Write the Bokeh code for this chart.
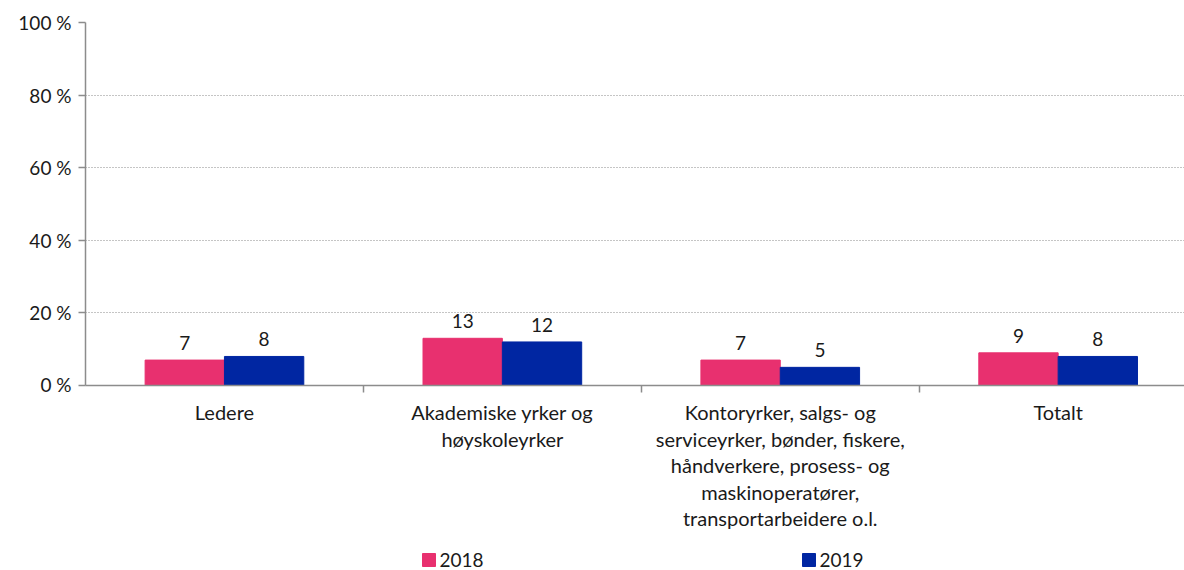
from bokeh.plotting import figure
from bokeh.layouts import column
from bokeh.models import FixedTicker, ColumnDataSource, Range1d
from bokeh.embed import file_html
from bokeh.resources import INLINE
from bokeh.core.properties import value

categories = ["Ledere",
              "Akademiske yrker og\nhøyskoleyrker",
              "Kontoryrker, salgs- og\nserviceyrker, bønder, fiskere,\nhåndverkere, prosess- og\nmaskinoperatører,\ntransportarbeidere o.l.",
              "Totalt"]
v2018 = [7, 13, 7, 9]
v2019 = [8, 12, 5, 8]
series_names = ["2018", "2019"]
y_ticks = [0, 20, 40, 60, 80, 100]
y_labels = ["0 %", "20 %", "40 %", "60 %", "80 %", "100 %"]

FONT = "Lato"
C1 = "#E8306F"
C2 = "#0026A2"
colors = [C1, C2]
TXT = "#1a1a1a"
AX = "#8c8c8c"

# layout constants (pixels)
LEFT = 85
CAT_PX = 277.9
FRAME_W = 1099
FRAME_H = 363
TOP = 22
BOT = 10
LOWER_H = 175

n = len(categories)
x_end = FRAME_W / CAT_PX
xr = Range1d(0, x_end)
centers = [i + 0.5 for i in range(n)]
bw = 0.2855
x1 = [c - bw / 2 for c in centers]
x2 = [c + bw / 2 for c in centers]

p = figure(frame_width=FRAME_W, frame_height=FRAME_H, x_range=xr, y_range=(0, 100),
           output_backend="svg", toolbar_location=None,
           min_border_left=LEFT, min_border_right=0, min_border_top=TOP, min_border_bottom=BOT)
p.outline_line_color = None

s1 = ColumnDataSource(dict(x=x1, top=v2018, lab=[str(v) for v in v2018]))
s2 = ColumnDataSource(dict(x=x2, top=v2019, lab=[str(v) for v in v2019]))
p.vbar(x="x", top="top", width=bw, bottom=0, source=s1, fill_color=C1, line_color=C1)
p.vbar(x="x", top="top", width=bw, bottom=0, source=s2, fill_color=C2, line_color=C2)
for s in (s1, s2):
    p.text(x="x", y="top", text="lab", source=s, text_align="center", text_baseline="alphabetic",
           y_offset=-17, text_font=value(FONT), text_font_size="19px", text_color=TXT)

# x axis: tick marks between categories, no labels (drawn in lower panel)
p.xaxis.ticker = FixedTicker(ticks=centers, minor_ticks=list(range(1, n)))
p.xaxis.major_label_overrides = {c: "" for c in centers}
p.xaxis.major_label_text_font_size = "0px"
p.xaxis.major_label_standoff = 0
p.xaxis.major_tick_out = 0
p.xaxis.major_tick_in = 0
p.xaxis.minor_tick_out = 7
p.xaxis.minor_tick_in = 0
p.xaxis.minor_tick_line_color = AX
p.xaxis.minor_tick_line_width = 1.5
p.xaxis.axis_line_color = AX
p.xaxis.axis_line_width = 1.5

# y axis
p.yaxis.ticker = FixedTicker(ticks=y_ticks, minor_ticks=[])
p.yaxis.major_label_overrides = {t: l for t, l in zip(y_ticks, y_labels)}
p.yaxis.major_tick_out = 7
p.yaxis.major_tick_in = 0
p.yaxis.major_tick_line_color = AX
p.yaxis.major_tick_line_width = 1.5
p.yaxis.axis_line_color = AX
p.yaxis.axis_line_width = 1.5
p.yaxis.major_label_text_font = FONT
p.yaxis.major_label_text_font_size = "19px"
p.yaxis.major_label_text_color = TXT
p.yaxis.major_label_standoff = 7

p.xgrid.grid_line_color = None
p.ygrid.grid_line_color = "#8a8a8a"
p.ygrid.grid_line_dash = "1 2"
p.ygrid.grid_line_width = 1

# lower panel: category labels and legend
q = figure(frame_width=FRAME_W, frame_height=LOWER_H, x_range=xr, y_range=Range1d(-LOWER_H, 0),
           output_backend="svg", toolbar_location=None,
           min_border_left=LEFT, min_border_right=0, min_border_top=0, min_border_bottom=0)
q.axis.visible = False
q.grid.visible = False
q.outline_line_color = None

FIRST_LINE = 16.5
LINE_STEP = 26.5
lx, ly, lt = [], [], []
for c, lab in zip(centers, categories):
    for k, line in enumerate(lab.split("\n")):
        lx.append(c)
        ly.append(-(FIRST_LINE + k * LINE_STEP))
        lt.append(line)
q.text(x=lx, y=ly, text=lt, text_align="center", text_baseline="middle",
       text_font=value(FONT), text_font_size="20px", text_color=TXT)

# legend
LEG_Y = -164.5
LEG_X0 = 428.5 - LEFT
LEG_GAP = 380.0
SQ = 13
leg_x = [(LEG_X0 + i * LEG_GAP) / CAT_PX for i in range(len(series_names))]
q.rect(x=leg_x, y=[LEG_Y] * len(series_names), width=SQ, height=SQ,
       width_units="screen", height_units="screen", fill_color=colors, line_color=colors)
q.text(x=leg_x, y=[LEG_Y] * len(series_names), text=series_names, x_offset=SQ / 2 + 4,
       text_align="left", text_baseline="middle",
       text_font=value(FONT), text_font_size="19px", text_color=TXT)

lay = column(p, q, spacing=0)
open("out.html", "w").write(file_html(lay, INLINE))
